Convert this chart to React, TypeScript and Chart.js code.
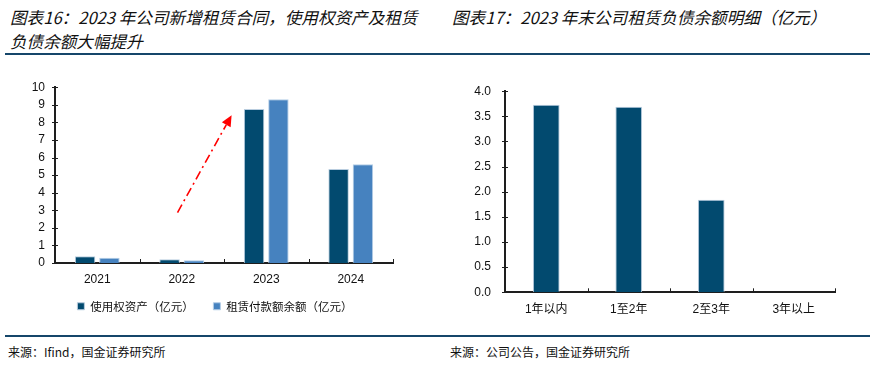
import React, { useEffect, useRef } from 'react';
import { Chart, registerables } from 'chart.js';

Chart.register(...registerables);

// ---------- data ----------
const years = ['2021', '2022', '2023', '2024'];
const rouAssets = [0.38, 0.21, 8.76, 5.34];
const leaseBalance = [0.30, 0.15, 9.31, 5.62];
const leftSeriesNames = ['使用权资产（亿元）　', '租赁付款额余额（亿元）'];

const maturityCats = ['1年以内', '1至2年', '2至3年', '3年以上'];
const maturityVals = [3.73, 3.69, 1.84, 0];

// arrow annotation in data coordinates [category index, value]
const arrowFrom = [0.95, 2.87];
const arrowTo = [1.59, 8.41];

const DARK = '#024a6f';
const LIGHT = '#4682bf';
const AXIS = '#1e1e1e';
const TICK_FONT = "'Liberation Sans', Arial, 'Noto Sans CJK SC', sans-serif";
const CJK_FONT = "'Noto Sans CJK SC', 'Liberation Sans', sans-serif";

const innerTicks = {
  id: 'innerTicks',
  afterDraw(chart: any) {
    const { ctx, chartArea } = chart;
    const xs = chart.scales.x;
    const ys = chart.scales.y;
    ctx.save();
    ctx.strokeStyle = AXIS;
    ctx.lineWidth = 1;
    ys.ticks.forEach((_t: any, i: number) => {
      const py = Math.round(ys.getPixelForTick(i)) + 0.5;
      ctx.beginPath();
      ctx.moveTo(chartArea.left - 3, py);
      ctx.lineTo(chartArea.left + 3, py);
      ctx.stroke();
    });
    const n = xs.ticks.length;
    for (let i = 1; i <= n; i++) {
      const px =
        i === n
          ? chartArea.right
          : (xs.getPixelForTick(i - 1) + xs.getPixelForTick(i)) / 2;
      const rx = Math.round(px) + 0.5;
      ctx.beginPath();
      ctx.moveTo(rx, chartArea.bottom);
      ctx.lineTo(rx, chartArea.bottom - 4);
      ctx.stroke();
    }
    ctx.restore();
  },
};

const arrowPlugin = {
  id: 'arrowPlugin',
  afterDatasetsDraw(chart: any) {
    const xs = chart.scales.x;
    const ys = chart.scales.y;
    const x0 = xs.getPixelForValue(arrowFrom[0]);
    const y0 = ys.getPixelForValue(arrowFrom[1]);
    const x1 = xs.getPixelForValue(arrowTo[0]);
    const y1 = ys.getPixelForValue(arrowTo[1]);
    const ang = Math.atan2(y1 - y0, x1 - x0);
    const headLen = 11;
    const headW = 5;
    const bx = x1 - headLen * Math.cos(ang);
    const by = y1 - headLen * Math.sin(ang);
    const { ctx } = chart;
    ctx.save();
    ctx.strokeStyle = '#ff0000';
    ctx.fillStyle = '#ff0000';
    ctx.lineWidth = 1.6;
    ctx.setLineDash([9, 4, 2, 4]);
    ctx.beginPath();
    ctx.moveTo(x0, y0);
    ctx.lineTo(bx, by);
    ctx.stroke();
    ctx.setLineDash([]);
    ctx.beginPath();
    ctx.moveTo(x1, y1);
    ctx.lineTo(bx + headW * Math.sin(ang), by - headW * Math.cos(ang));
    ctx.lineTo(bx - headW * Math.sin(ang), by + headW * Math.cos(ang));
    ctx.closePath();
    ctx.fill();
    ctx.restore();
  },
};

function LeftChart() {
  const ref = useRef<HTMLCanvasElement>(null);
  useEffect(() => {
    const chart = new Chart(ref.current as HTMLCanvasElement, {
      type: 'bar',
      data: {
        labels: years,
        datasets: [
          {
            label: leftSeriesNames[0],
            data: rouAssets,
            backgroundColor: DARK,
            borderColor: '#b9cddf',
            borderWidth: 1,
            categoryPercentage: 0.576,
            barPercentage: 0.84,
          },
          {
            label: leftSeriesNames[1],
            data: leaseBalance,
            backgroundColor: LIGHT,
            borderColor: '#b4cde6',
            borderWidth: 1,
            categoryPercentage: 0.576,
            barPercentage: 0.84,
          },
        ],
      },
      options: {
        responsive: false,
        animation: false,
        devicePixelRatio: 1,
        layout: { padding: { top: 14, left: 0, right: 0, bottom: 0 } },
        plugins: {
          tooltip: { enabled: false },
          legend: {
            position: 'bottom',
            labels: {
              boxWidth: 7,
              boxHeight: 7,
              padding: 14,
              color: '#111',
              font: { family: CJK_FONT, size: 11.5 },
            },
          },
        },
        scales: {
          x: {
            grid: { display: false, drawTicks: false },
            border: { display: true, color: AXIS, width: 2 },
            ticks: { color: '#111', padding: 9, font: { family: TICK_FONT, size: 12 } },
            afterFit: (s: any) => {
              s.height = 23.5;
            },
          },
          y: {
            min: 0,
            max: 10,
            ticks: { stepSize: 1, color: '#111', padding: 10, font: { family: TICK_FONT, size: 12 } },
            grid: { display: false, drawTicks: false },
            border: { display: true, color: AXIS, width: 2 },
            afterFit: (s: any) => {
              s.width = 55;
            },
          },
          y2: {
            type: 'linear',
            position: 'right',
            display: true,
            grid: { display: false, drawTicks: false },
            border: { display: false },
            ticks: { display: false },
            afterFit: (s: any) => {
              s.width = 37;
            },
          },
        },
      } as any,
      plugins: [innerTicks, arrowPlugin],
    });
    return () => chart.destroy();
  }, []);
  return <canvas ref={ref} width={430} height={252} style={{ width: 430, height: 252, display: 'block' }} />;
}

function RightChart() {
  const ref = useRef<HTMLCanvasElement>(null);
  useEffect(() => {
    const chart = new Chart(ref.current as HTMLCanvasElement, {
      type: 'bar',
      data: {
        labels: maturityCats,
        datasets: [
          {
            label: '租赁负债余额（亿元）',
            data: maturityVals,
            backgroundColor: DARK,
            borderColor: '#b9cddf',
            borderWidth: 1,
            categoryPercentage: 0.8,
            barPercentage: 0.405,
          },
        ],
      },
      options: {
        responsive: false,
        animation: false,
        devicePixelRatio: 1,
        layout: { padding: { top: 13.3, left: 0, right: 42, bottom: 0 } },
        plugins: {
          tooltip: { enabled: false },
          legend: { display: false },
        },
        scales: {
          x: {
            grid: { display: false, drawTicks: false },
            border: { display: true, color: AXIS, width: 2 },
            ticks: { color: '#111', padding: 10, font: { family: TICK_FONT, size: 12 } },
            afterFit: (s: any) => {
              s.height = 25.7;
            },
          },
          y: {
            min: 0,
            max: 4,
            ticks: {
              stepSize: 0.5,
              color: '#111',
              padding: 14,
              font: { family: TICK_FONT, size: 12 },
              callback: (v: any) => Number(v).toFixed(1),
            },
            grid: { display: false, drawTicks: false },
            border: { display: true, color: AXIS, width: 2 },
            afterFit: (s: any) => {
              s.width = 65;
            },
          },
        },
      } as any,
      plugins: [innerTicks],
    });
    return () => chart.destroy();
  }, []);
  return <canvas ref={ref} width={437} height={248} style={{ width: 437, height: 248, display: 'block' }} />;
}

const titleStyle: React.CSSProperties = {
  position: 'absolute',
  fontFamily: CJK_FONT,
  fontStyle: 'italic',
  fontSize: 16.6,
  lineHeight: '24px',
  color: '#111',
  whiteSpace: 'nowrap',
};

const sourceStyle: React.CSSProperties = {
  position: 'absolute',
  fontFamily: CJK_FONT,
  fontSize: 12,
  lineHeight: '16px',
  color: '#111',
  whiteSpace: 'nowrap',
};

export default function App() {
  return (
    <div
      style={{
        position: 'absolute',
        left: 0,
        top: 0,
        width: 877,
        height: 365,
        background: '#fff',
        overflow: 'hidden',
      }}
    >
      <div style={{ ...titleStyle, left: 10, top: 5 }}>
        图表16：2023 年公司新增租赁合同，使用权资产及租赁
        <br />
        负债余额大幅提升
      </div>
      <div style={{ ...titleStyle, left: 452, top: 5 }}>图表17：2023 年末公司租赁负债余额明细（亿元）</div>
      <div style={{ position: 'absolute', left: 5, top: 53, width: 865, height: 2, background: '#15466a' }} />
      <div style={{ position: 'absolute', left: 0, top: 70 }}>
        <LeftChart />
      </div>
      <div style={{ position: 'absolute', left: 440, top: 70 }}>
        <RightChart />
      </div>
      <div style={{ position: 'absolute', left: 5, top: 335, width: 865, height: 2, background: '#15466a' }} />
      <div style={{ ...sourceStyle, left: 8, top: 344 }}>来源：Ifind，国金证券研究所</div>
      <div style={{ ...sourceStyle, left: 450, top: 344 }}>来源：公司公告，国金证券研究所</div>
    </div>
  );
}
